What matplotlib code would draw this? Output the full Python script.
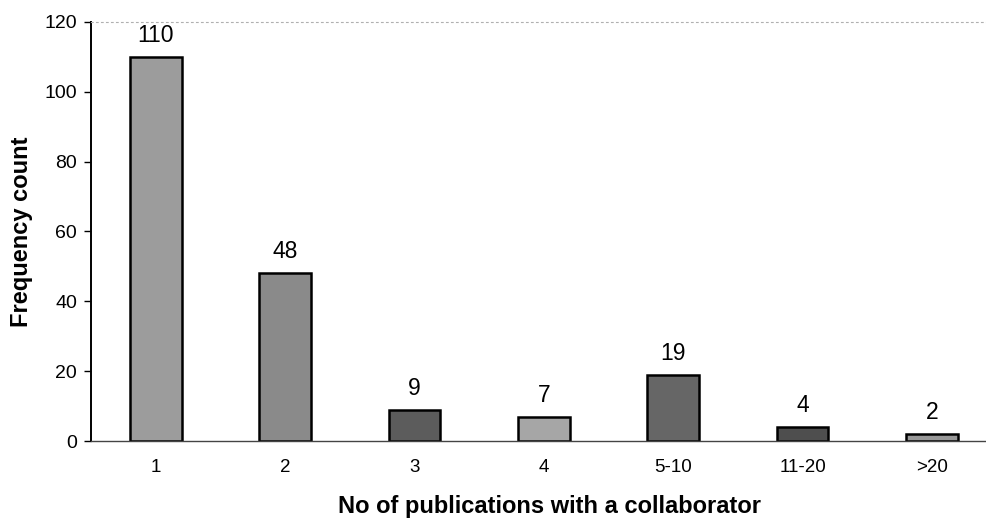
import matplotlib
matplotlib.use("Agg")
import matplotlib.pyplot as plt
import numpy as np

plt.rcParams['font.family'] = ['Liberation Sans', 'DejaVu Sans']

categories = ["1", "2", "3", "4", "5-10", "11-20", ">20"]
counts = [110, 48, 9, 7, 19, 4, 2]
bar_greys = ["#9c9c9c", "#8a8a8a", "#5c5c5c", "#a6a6a6", "#666666", "#4e4e4e", "#989898"]

fig = plt.figure(figsize=(9.87, 5.19), dpi=100)
# the plot area runs slightly past the right edge of the figure
ax = fig.add_axes([0.0922, 0.150, 0.9175, 0.808])

x = np.arange(len(categories))
ax.bar(x, counts, width=0.40, color=bar_greys, edgecolor="black", linewidth=1.8)

# value labels above each bar
for xi, c in zip(x, counts):
    ax.text(xi, c + 4.3, str(c), ha="center", va="baseline", fontsize=16.5)

ax.set_xlim(-0.5, 6.5)
ax.set_ylim(0, 120)
ax.set_yticks(np.arange(0, 121, 20))
ax.set_xticks(x)
ax.set_xticklabels(categories)
ax.tick_params(axis="y", direction="out", length=5, width=1, labelsize=14, pad=5)
ax.tick_params(axis="x", length=0, labelsize=13.5, pad=13)

ax.spines["right"].set_visible(False)
ax.spines["left"].set_linewidth(1.4)
ax.spines["bottom"].set_color("#444444")
ax.spines["bottom"].set_linewidth(1.0)
ax.spines["top"].set_color("#b0b0b0")
ax.spines["top"].set_linestyle((0, (1.5, 3)))
ax.spines["top"].set_linewidth(0.8)

ax.set_ylabel("Frequency count", fontsize=17, fontweight="bold", labelpad=8)
ax.set_xlabel("No of publications with a collaborator", fontsize=17, fontweight="bold")
ax.xaxis.set_label_coords((550 - 91) / 905.6, -0.128)

fig.savefig("out.png", dpi=100)
